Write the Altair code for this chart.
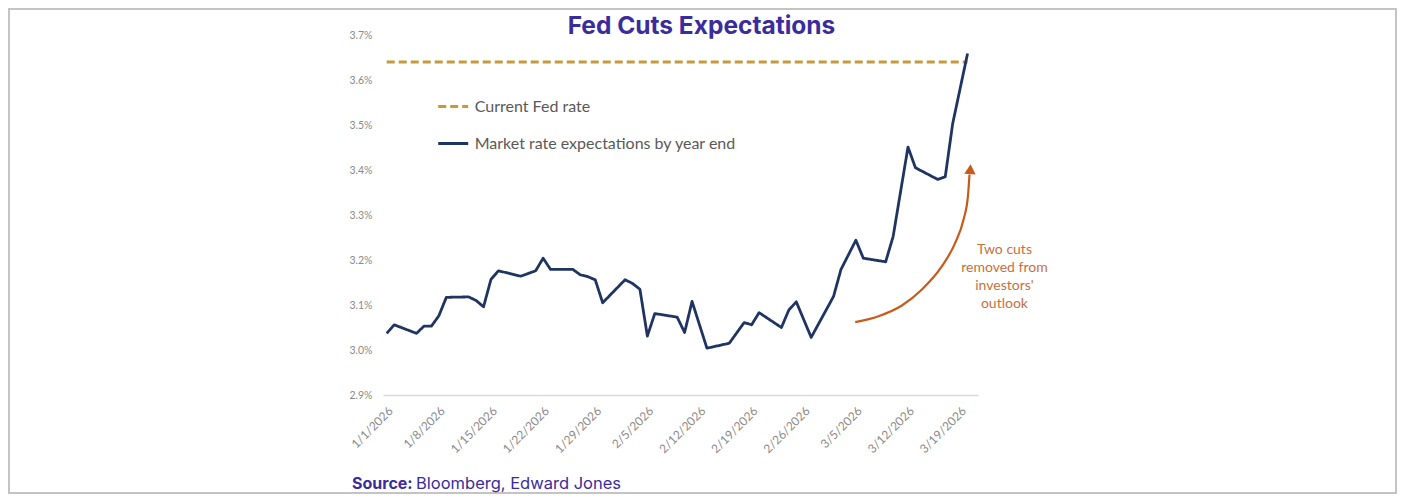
import altair as alt
import pandas as pd

# ---------------- data ----------------
market_dates = [
    "2026-01-01", "2026-01-02", "2026-01-05", "2026-01-06", "2026-01-07", "2026-01-08",
    "2026-01-09", "2026-01-12", "2026-01-13", "2026-01-14", "2026-01-15", "2026-01-16",
    "2026-01-19", "2026-01-21", "2026-01-22", "2026-01-23", "2026-01-26", "2026-01-27",
    "2026-01-28", "2026-01-29", "2026-01-30", "2026-02-02", "2026-02-03", "2026-02-04",
    "2026-02-05", "2026-02-06", "2026-02-09", "2026-02-10", "2026-02-11", "2026-02-13",
    "2026-02-16", "2026-02-18", "2026-02-19", "2026-02-20", "2026-02-23", "2026-02-24",
    "2026-02-25", "2026-02-27", "2026-03-02", "2026-03-03", "2026-03-05", "2026-03-06",
    "2026-03-09", "2026-03-10", "2026-03-12", "2026-03-13", "2026-03-16", "2026-03-17",
    "2026-03-18", "2026-03-20",
]
market_values = [
    3.037, 3.056, 3.037, 3.053, 3.053, 3.076,
    3.117, 3.118, 3.110, 3.096, 3.157, 3.176,
    3.164, 3.176, 3.204, 3.179, 3.179, 3.167,
    3.163, 3.156, 3.105, 3.156, 3.148, 3.135,
    3.031, 3.081, 3.073, 3.039, 3.108, 3.004,
    3.015, 3.061, 3.056, 3.083, 3.050, 3.089,
    3.107, 3.028, 3.119, 3.179, 3.244, 3.204,
    3.196, 3.252, 3.451, 3.405, 3.379, 3.385,
    3.503, 3.659,
]
fed_dates = ["2026-01-01", "2026-03-20"]
fed_values = [3.64, 3.64]

series_names = ["Current Fed rate", "Market rate expectations by year end"]
series_colors = ["#c49a3c", "#1f3461"]

tick_dates = ["2026-01-01", "2026-01-08", "2026-01-15", "2026-01-22", "2026-01-29",
              "2026-02-05", "2026-02-12", "2026-02-19", "2026-02-26", "2026-03-05",
              "2026-03-12", "2026-03-19"]
y_ticks = [2.9, 3.0, 3.1, 3.2, 3.3, 3.4, 3.5, 3.6, 3.7]

# curved annotation arrow (day index, value)
arrow_days = [62.91, 66.04, 69.18, 71.87, 74.56, 76.34, 77.46, 78.05, 78.26]
arrow_values = [3.0618, 3.0751, 3.0989, 3.1344, 3.1862, 3.2382, 3.2900, 3.3418, 3.3900]
arrow_head_day = [78.36]
arrow_head_value = [3.402]

note_lines = ["Two cuts", "removed from", "investors'", "outlook"]
note_day = [82.95]
note_value = [3.2233]

title_text = "Fed Cuts Expectations"
source_bold = "Source:"
source_rest = "Bloomberg, Edward Jones"

# ---------------- build tables ----------------
start = pd.Timestamp("2026-01-01")


def day_index(ds):
    return [(pd.Timestamp(d) - start).days for d in ds]


lines_df = pd.concat([
    pd.DataFrame({"day": day_index(fed_dates), "value": fed_values, "series": series_names[0], "order": 0}),
    pd.DataFrame({"day": day_index(market_dates), "value": market_values, "series": series_names[1], "order": 1}),
], ignore_index=True)

arrow_df = pd.DataFrame({"day": arrow_days, "value": arrow_values})
head_df = pd.DataFrame({"day": arrow_head_day, "value": arrow_head_value})
note_df = pd.DataFrame({"day": note_day, "value": note_value})
deco_df = pd.DataFrame({"k": [0]})

W, H = 595, 360
PAD_L, PAD_T = 375, 27
TOTAL_W, TOTAL_H = 1389, 486

x_scale = alt.Scale(domain=[-0.5, 79.4], nice=False, zero=False)
y_scale = alt.Scale(domain=[2.9, 3.7], nice=False, zero=False)

x_axis = alt.Axis(
    values=day_index(tick_dates),
    labelExpr="timeFormat(datetime(2026, 0, 1 + datum.value), '%-m/%-d/%Y')",
    labelAngle=-45, labelFont="Lato", labelFontSize=12, labelColor="#8a8a8a",
    ticks=False, grid=False, domain=True, domainColor="#d9d9d9", domainWidth=1.5,
    labelPadding=10, title=None,
)
y_axis = alt.Axis(
    values=y_ticks,
    labelExpr="format(datum.value, '.1f') + '%'",
    labelFont="Lato", labelFontSize=10.5, labelColor="#8a8a8a",
    ticks=False, grid=False, domain=False, labelPadding=11, title=None,
)

legend_opts = dict(
    title=None, orient="none", legendX=53.7, legendY=55,
    symbolType="stroke", symbolSize=900, symbolStrokeWidth=3,
    labelFont="Lato", labelFontSize=16, labelColor="#595959",
    labelOffset=5, rowPadding=12, padding=0, labelLimit=400,
)

lines = alt.Chart(lines_df).mark_line(strokeWidth=2.8, strokeJoin="round").encode(
    x=alt.X("day:Q", scale=x_scale, axis=x_axis),
    y=alt.Y("value:Q", scale=y_scale, axis=y_axis),
    color=alt.Color("series:N", scale=alt.Scale(domain=series_names, range=series_colors),
                    legend=alt.Legend(**legend_opts)),
    strokeDash=alt.StrokeDash("series:N", scale=alt.Scale(domain=series_names, range=[[8, 4], [1, 0]]),
                              legend=alt.Legend(**legend_opts)),
    detail="series:N",
    order="order:Q",
)

arrow = alt.Chart(arrow_df).mark_line(color="#c85a1c", strokeWidth=2.2, interpolate="monotone").encode(
    x=alt.X("day:Q", scale=x_scale),
    y=alt.Y("value:Q", scale=y_scale),
)
head = alt.Chart(head_df).mark_point(shape="triangle-up", filled=True, size=130, color="#c85a1c",
                                     opacity=1, angle=4).encode(
    x=alt.X("day:Q", scale=x_scale),
    y=alt.Y("value:Q", scale=y_scale),
)
note = alt.Chart(note_df).mark_text(text=note_lines, font="Lato", fontSize=14, color="#c8703c",
                                    lineHeight=18, align="center", baseline="middle").encode(
    x=alt.X("day:Q", scale=x_scale),
    y=alt.Y("value:Q", scale=y_scale),
)

title = alt.Chart(deco_df).mark_text(text=title_text, font="Inter", fontSize=24.5, fontWeight="bold",
                                     color="#3b2c9d", align="center", baseline="alphabetic").encode(
    x=alt.value(701.5 - 8 - PAD_L), y=alt.value(33.5 - 8 - PAD_T),
)
src1 = alt.Chart(deco_df).mark_text(text=source_bold, font="Inter", fontSize=16, fontWeight="bold",
                                    color="#3b2c9d", align="left", baseline="middle").encode(
    x=alt.value(352 - 8 - PAD_L), y=alt.value(484 - 8 - PAD_T),
)
src2 = alt.Chart(deco_df).mark_text(text=source_rest, font="Inter", fontSize=16.5,
                                    color="#3b2c9d", align="left", baseline="middle").encode(
    x=alt.value(416 - 8 - PAD_L), y=alt.value(484 - 8 - PAD_T),
)
frame = alt.Chart(deco_df).mark_rect(fill="transparent", stroke="#c4c4c4", strokeWidth=2).encode(
    x=alt.value(-PAD_L + 1), x2=alt.value(TOTAL_W - PAD_L - 1),
    y=alt.value(-PAD_T + 1), y2=alt.value(TOTAL_H - PAD_T - 1),
)

chart = alt.layer(frame, lines, arrow, head, note, title, src1, src2).properties(
    width=W, height=H,
    autosize=alt.AutoSizeParams(type="none"),
    padding={"left": PAD_L, "top": PAD_T, "right": TOTAL_W - PAD_L - W, "bottom": TOTAL_H - PAD_T - H},
    background="white",
).configure_view(stroke=None)

chart.save("out.html", embed_options={"renderer": "svg", "actions": False})
